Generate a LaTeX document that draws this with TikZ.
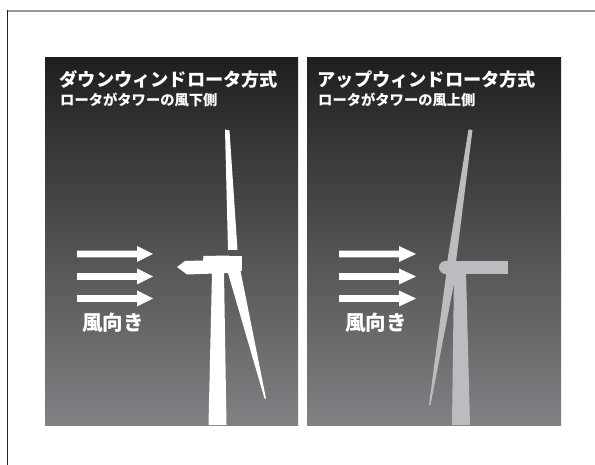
\documentclass[tikz,border=0pt]{standalone}
\usepackage{fontspec}
\newfontfamily\jp{Noto Sans CJK JP}
\begin{document}
\begin{tikzpicture}[x=1pt,y=-1pt,
  panel/.style={top color=panelTop,bottom color=panelBottom,draw=none},
  title/.style={anchor=base west,inner sep=0pt,text=white,font=\jp\bfseries\fontsize{18.2}{18.2}\selectfont},
  subtitle/.style={anchor=base west,inner sep=0pt,text=white,font=\jp\bfseries\fontsize{14.3}{14.3}\selectfont},
  windlabel/.style={anchor=base west,inner sep=0pt,text=white,font=\jp\bfseries\fontsize{20.5}{20.5}\selectfont},
  windarrow/.style={fill=white,draw=none},
  downturbine/.style={fill=white,draw=none},
  upturbine/.style={fill=upGray,draw=none}]
\definecolor{panelTop}{HTML}{201F20}
\definecolor{panelBottom}{HTML}{808184}
\definecolor{upGray}{HTML}{BBBCC0}
\definecolor{frameTop}{HTML}{999999}
\definecolor{frameLeft}{HTML}{231F20}

\useasboundingbox (0,0) rectangle (595,465);
\fill[white] (0,0) rectangle (595,465);

% frame lines
\draw[frameTop,line width=1.6pt] (7,11) -- (595,11);
\draw[frameLeft,line width=1.3pt] (7.3,10.2) -- (7.3,465);

% panels
\shade[panel] (45,58) rectangle (298,425);
\shade[panel] (307,58) rectangle (561,425);

% headings
\node[title] (tdown) at (59.5,87) {ダウンウィンドロータ方式};
\node[subtitle] (sdown) at (60,105.5) {ロータがタワーの風下側};
\node[title] (tup) at (317.5,87) {アップウィンドロータ方式};
\node[subtitle] (sup2) at (318,105.5) {ロータがタワーの風上側};

% wind arrows, left panel
\foreach \yy in {254,276.5,298.5}{
  \fill[windarrow] (77,\yy-3.4) -- (137,\yy-3.4) -- (137,\yy-8) -- (153,\yy)
    -- (137,\yy+8) -- (137,\yy+3.4) -- (77,\yy+3.4) -- cycle;
}
% wind arrows, right panel
\foreach \yy in {254,276.5,298.5}{
  \fill[windarrow] (339,\yy-3.4) -- (399,\yy-3.4) -- (399,\yy-8) -- (416,\yy)
    -- (399,\yy+8) -- (399,\yy+3.4) -- (339,\yy+3.4) -- cycle;
}
\node[windlabel] (wdown) at (82,331) {風向き};
\node[windlabel] (wup) at (345,331) {風向き};

% downwind turbine: rotor behind the tower
\fill[downturbine] (212,273) -- (224,273) -- (226.5,425) -- (208.5,425) -- cycle;
\fill[downturbine] (177,267) -- (185,261) -- (203,260.5) -- (203.5,256) -- (229,255.5)
  -- (229,273) -- (187,274.5) -- cycle;
\fill[downturbine] (225,129.5) -- (229.5,130.5) -- (237.5,250) -- (228,250) -- cycle;
\fill[downturbine] (228,256) rectangle (242,271);
\fill[downturbine] (226.5,268) -- (239.5,266) -- (266,398.5) -- (264.5,398.5) -- cycle;

% upwind turbine: rotor in front of the tower
\fill[upturbine] (454,272) -- (466,272) -- (470,425) -- (452,425) -- cycle;
\fill[upturbine] (446,261) rectangle (508,274);
\fill[upturbine] (445.5,267.5) ellipse[x radius=6.5,y radius=6.5];
\fill[upturbine] (468.5,129.5) -- (472.5,130) -- (455.5,266) -- (446.5,266) -- cycle;
\fill[upturbine] (447,268) -- (457,268) -- (430.5,405) -- (429,405) -- cycle;
\end{tikzpicture}
\end{document}
